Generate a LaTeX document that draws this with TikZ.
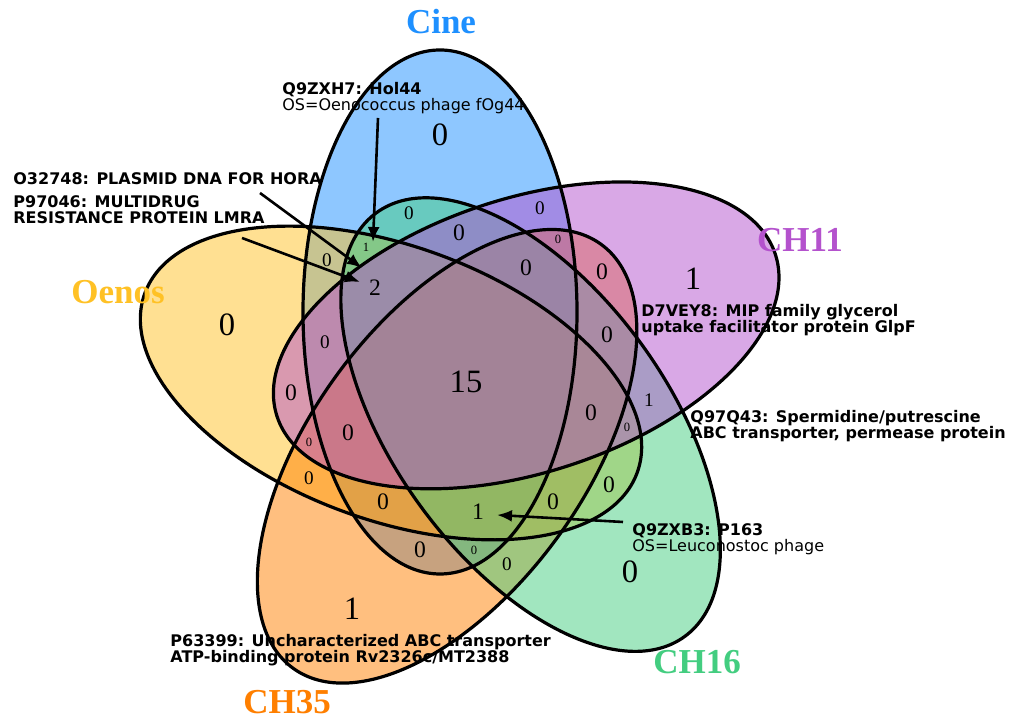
\documentclass[tikz,border=0pt]{standalone}
\usepackage{fontspec}
\setmainfont{Liberation Serif}
\newfontfamily\protfont{DejaVu Sans}
\usetikzlibrary{arrows.meta}

\definecolor{cineblue}{RGB}{30,144,255}
\definecolor{oenosgold}{RGB}{255,193,37}
\definecolor{chorange}{RGB}{255,127,0}
\definecolor{chgreen}{RGB}{67,205,128}
\definecolor{chorchid}{RGB}{180,82,205}

\begin{document}
\begin{tikzpicture}[x=0.5pt, y=0.5pt,
    numL/.style={font=\fontsize{16.3}{18}\selectfont},
    numM/.style={font=\fontsize{11.8}{14}\selectfont},
    numS/.style={font=\fontsize{9.6}{11}\selectfont},
    numXS/.style={font=\fontsize{6.3}{7}\selectfont},
    setname/.style={font=\fontsize{17.5}{20}\selectfont\bfseries},
    prot/.style={font=\protfont\fontsize{8}{8}\selectfont, anchor=north west, inner sep=0pt, align=left},
    pointer/.style={line width=1.3pt, -{Latex[length=7.5pt, width=6pt]}}
]

    \useasboundingbox (0,0) rectangle (1013,721);

    % Ellipses (fill first, in set order)
    \foreach \cx/\cy/\rot/\col in {440/409/90/cineblue, 391/338/160/oenosgold,
        447.1/264.7/-126/chorange, 530.6/296.4/-54/chgreen, 526.2/385.6/18/chorchid} {
        \fill[\col, fill opacity=0.5, rotate around={\rot:(\cx,\cy)}]
            (\cx,\cy) ellipse [x radius=262, y radius=137];
    }
    % Contours
    \foreach \cx/\cy/\rot in {440/409/90, 391/338/160, 447.1/264.7/-126,
        530.6/296.4/-54, 526.2/385.6/18} {
        \draw[line width=1.6pt, rotate around={\rot:(\cx,\cy)}]
            (\cx,\cy) ellipse [x radius=262, y radius=137];
    }

    % Noms des ensembles
    \node[setname, text=cineblue] (cine) at (441,699) {Cine};
    \node[setname, text=oenosgold] (oenos) at (118,429) {Oenos};
    \node[setname, text=chorchid] (ch11) at (800,481) {CH11};
    \node[setname, text=chgreen] (ch16) at (697,59) {CH16};
    \node[setname, text=chorange] (ch35) at (287,19) {CH35};

    % Effectifs
    \foreach \x/\y/\v [count=\i] in {440/586/0, 693/442/1, 227/396/0, 352/112/1,
        630/149/0, 466/339/15} {
        \node[numL] (nL\i) at (\x,\y) {\v};
    }
    \foreach \x/\y/\v [count=\i] in {459/488/0, 375/433/2, 526/453/0, 602/449/0,
        607/386/0, 291/328/0, 591/308/0, 348/288/0, 383/219/0, 478/209/1,
        553/219/0, 420/171/0, 609/236/0} {
        \node[numM] (nM\i) at (\x,\y) {\v};
    }
    \foreach \x/\y/\v [count=\i] in {409/508/0, 540/513/0, 327/461/0, 325/379/0,
        649/321/1, 309/243/0, 507/157/0} {
        \node[numS] (nS\i) at (\x,\y) {\v};
    }
    \foreach \x/\y/\v [count=\i] in {366/474/1, 558/482/0, 627/294/0, 309/279/0,
        474/171/0} {
        \node[numXS] (nXS\i) at (\x,\y) {\v};
    }

    % Annotations
    \node[prot] (q9zxh7) at (282,639) {\textbf{Q9ZXH7: Hol44}\\OS=Oenococcus phage fOg44};
    \node[prot, font=\protfont\fontsize{8}{8}\selectfont\bfseries] (o32748) at (13,549) {O32748: PLASMID DNA FOR HORA};
    \node[prot, font=\protfont\fontsize{8}{8}\selectfont\bfseries] (p97046) at (13,526) {P97046: MULTIDRUG\\RESISTANCE PROTEIN LMRA};
    \node[prot, font=\protfont\fontsize{8}{8}\selectfont\bfseries] (d7vey8) at (641,417) {D7VEY8: MIP family glycerol\\uptake facilitator protein GlpF};
    \node[prot, font=\protfont\fontsize{8}{8}\selectfont\bfseries] (q97q43) at (690,311) {Q97Q43: Spermidine/putrescine\\ABC transporter, permease protein};
    \node[prot] (q9zxb3) at (632,198) {\textbf{Q9ZXB3: P163}\\OS=Leuconostoc phage};
    \node[prot, font=\protfont\fontsize{8}{8}\selectfont\bfseries] (p63399) at (170,87) {P63399: Uncharacterized ABC transporter\\ATP-binding protein Rv2326c/MT2388};

    % Fleches
    \coordinate (holA) at (378,603);   \coordinate (holB) at (373,479);
    \coordinate (horaA) at (260,528);  \coordinate (horaB) at (362,453);
    \coordinate (lmraA) at (242,483);  \coordinate (lmraB) at (360,439);
    \coordinate (p163A) at (623,199);  \coordinate (p163B) at (497,206);
    \draw[pointer] (holA) -- (holB);
    \draw[pointer] (horaA) -- (horaB);
    \draw[pointer] (lmraA) -- (lmraB);
    \draw[pointer] (p163A) -- (p163B);

\end{tikzpicture}
\end{document}
